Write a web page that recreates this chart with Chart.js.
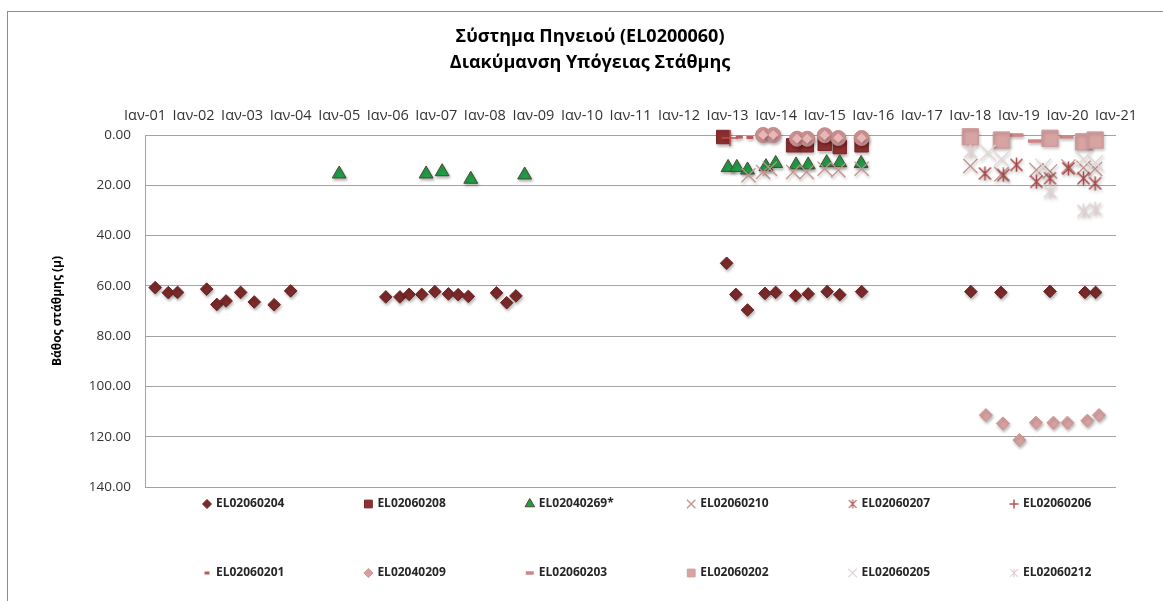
<!DOCTYPE html>
<html lang="el">
<head>
<meta charset="utf-8">
<title>Σύστημα Πηνειού (EL0200060)</title>
<script src="https://cdn.jsdelivr.net/npm/chart.js@4.4.1/dist/chart.umd.min.js"></script>
<style>
  html, body { margin: 0; padding: 0; background: #fff; }
  #wrap { position: relative; width: 1163px; height: 601px; }
</style>
</head>
<body>
<div id="wrap"><canvas id="levelChart" width="1163" height="601"></canvas></div>
<script>
  'use strict';

  const chartTitle = ['Σύστημα Πηνειού (EL0200060)', 'Διακύμανση Υπόγειας Στάθμης'];

  // Ετικέτες άξονα χρόνου (Ιανουάριος κάθε έτους)
  const yearTicks = ['Ιαν-01', 'Ιαν-02', 'Ιαν-03', 'Ιαν-04', 'Ιαν-05', 'Ιαν-06', 'Ιαν-07',
    'Ιαν-08', 'Ιαν-09', 'Ιαν-10', 'Ιαν-11', 'Ιαν-12', 'Ιαν-13', 'Ιαν-14', 'Ιαν-15',
    'Ιαν-16', 'Ιαν-17', 'Ιαν-18', 'Ιαν-19', 'Ιαν-20', 'Ιαν-21'];
  const depthTicks = [0, 20, 40, 60, 80, 100, 120, 140];

  // Μετρήσεις ανά γεώτρηση: χρόνος (δεκαδικό έτος) και βάθος στάθμης (μ)
  const t204 = [2001.21, 2001.48, 2001.67, 2002.27, 2002.48, 2002.67, 2002.97, 2003.25, 2003.66, 2004.00,
    2005.96, 2006.25, 2006.44, 2006.70, 2006.97, 2007.25, 2007.45, 2007.66, 2008.24, 2008.45, 2008.64,
    2012.98, 2013.17, 2013.41, 2013.77, 2013.99, 2014.40, 2014.66, 2015.05, 2015.31, 2015.76,
    2018.01, 2018.63, 2019.64, 2020.36, 2020.58];
  const d204 = [60.7, 62.7, 62.6, 61.3, 67.4, 66.0, 62.6, 66.4, 67.5, 62.0,
    64.4, 64.4, 63.4, 63.4, 62.3, 63.2, 63.5, 64.2, 62.8, 66.7, 64.0,
    51.0, 63.4, 69.6, 63.0, 62.6, 63.9, 63.2, 62.3, 63.5, 62.3,
    62.3, 62.6, 62.2, 62.6, 62.6];

  const t208 = [2012.91, 2014.35, 2014.63, 2015.00, 2015.31, 2015.76];
  const d208 = [0.8, 4.1, 4.1, 3.5, 4.8, 4.1];

  const t269 = [2005.00, 2006.79, 2007.12, 2007.71, 2008.82, 2013.01, 2013.19, 2013.41, 2013.79, 2013.99,
    2014.41, 2014.66, 2015.04, 2015.31, 2015.75];
  const d269 = [15.5, 15.5, 14.6, 17.6, 15.9, 12.9, 12.9, 13.9, 12.6, 11.3, 11.9, 11.9, 11.0, 11.0, 11.3];

  const t210 = [2013.43, 2013.73, 2013.87, 2014.35, 2014.63, 2015.00, 2015.28, 2015.76,
    2018.00, 2018.64, 2019.36, 2019.64, 2020.02, 2020.33, 2020.57];
  const d210 = [16.0, 14.7, 13.4, 14.7, 14.7, 13.4, 14.0, 13.4, 12.3, 15.6, 13.9, 14.5, 12.5, 13.0, 13.5];

  const t207 = [2018.30, 2018.68, 2018.95, 2019.36, 2019.64, 2020.02, 2020.33, 2020.57];
  const d207 = [15.3, 15.9, 11.9, 18.6, 17.2, 13.3, 17.2, 19.2];

  const t206 = [2013.05];
  const d206 = [1.2];

  const t201 = [2013.24, 2013.46];
  const d201 = [0.8, 1.0];

  const t209 = [2018.32, 2018.67, 2019.01, 2019.35, 2019.71, 2020.00, 2020.41, 2020.65];
  const d209 = [111.4, 114.7, 121.3, 114.4, 114.4, 114.4, 113.6, 111.4];

  const t203 = [2018.95, 2019.33, 2019.98];
  const d203 = [0.0, 2.4, 0.7];

  const t202 = [2018.00, 2018.64, 2019.64, 2020.33, 2020.57];
  const d202 = [0.7, 2.0, 1.3, 2.7, 2.0];

  const t205 = [2018.36, 2018.64, 2019.50, 2020.33, 2020.57];
  const d205 = [7.0, 9.5, 12.5, 9.5, 11.0];

  const t212 = [2018.00, 2019.64, 2020.33, 2020.57];
  const d212 = [6.6, 22.5, 30.2, 29.4];

  // στρογγυλά ροζ σημεία χωρίς υπόμνημα (2013-2015)
  const tRound = [2013.73, 2013.94, 2014.43, 2014.64, 2015.00, 2015.28, 2015.76];
  const dRound = [0.0, 0.0, 1.5, 1.5, 0.1, 1.2, 1.2];

  const FONT = '"Open Sans", "Noto Sans", "DejaVu Sans", sans-serif';
  Chart.defaults.font.family = FONT;

  function pts(t, d) {
    return t.map((x, i) => ({ x: x, y: d[i] }));
  }

  // αστερίσκος τύπου Excel: Χ με κατακόρυφη γραμμή
  function asterisk(size, color, lw) {
    const c = document.createElement('canvas');
    c.width = c.height = size;
    const g = c.getContext('2d');
    const m = lw;
    g.strokeStyle = color;
    g.lineWidth = lw;
    g.beginPath();
    g.moveTo(m, m); g.lineTo(size - m, size - m);
    g.moveTo(size - m, m); g.lineTo(m, size - m);
    g.moveTo(size / 2, 0.5); g.lineTo(size / 2, size - 0.5);
    g.stroke();
    return c;
  }

  function series(label, t, d, style) {
    return Object.assign({
      label: label,
      data: pts(t, d),
      clip: false,
      borderWidth: 1,
      pointHoverRadius: style.pointRadius
    }, style);
  }

  const datasets = [
    series('EL02060204', t204, d204, { pointStyle: 'rectRot', pointRadius: 6.3, backgroundColor: '#7b2a2a', borderColor: '#6b2323', legendRadius: 4.5 }),
    series('EL02060208', t208, d208, { pointStyle: 'rect', pointRadius: 9.5, backgroundColor: '#8e3030', borderColor: '#7a2828', legendRadius: 5.5 }),
    series('EL02040269*', t269, d269, { pointStyle: 'triangle', pointRadius: 8, backgroundColor: '#1f9e48', borderColor: '#4b4a2c', legendRadius: 5.5 }),
    series('EL02060210', t210, d210, { pointStyle: 'crossRot', pointRadius: 10, borderColor: '#c4928c', borderWidth: 1.3, legendRadius: 6 }),
    series('EL02060207', t207, d207, { pointStyle: asterisk(15, '#a84646', 1.5), pointRadius: 8, borderColor: '#a84646', legendImage: asterisk(10, '#b85a5a', 1.2) }),
    series('EL02060206', t206, d206, { pointStyle: 'cross', pointRadius: 8, borderColor: '#c0504d', borderWidth: 1.5, legendRadius: 4.5 }),
    series('EL02060201', t201, d201, { pointStyle: 'line', pointRadius: 3.5, borderColor: '#c05a5a', borderWidth: 3, legendRadius: 2.5 }),
    series('EL02040209', t209, d209, { pointStyle: 'rectRot', pointRadius: 6.5, backgroundColor: '#d6a0a0', borderColor: '#cc9595', legendRadius: 4.5 }),
    series('EL02060203', t203, d203, { pointStyle: 'line', pointRadius: 7, borderColor: '#d08484', borderWidth: 3.5, legendRadius: 4 }),
    series('EL02060202', t202, d202, { pointStyle: 'rect', pointRadius: 11.5, backgroundColor: '#d8a3a3', borderColor: '#cf9a9a', legendRadius: 5.5 }),
    series('EL02060205', t205, d205, { pointStyle: 'crossRot', pointRadius: 11, borderColor: '#e6d5d5', borderWidth: 1.3, legendRadius: 6 }),
    series('EL02060212', t212, d212, { pointStyle: asterisk(15, '#e3d0d0', 1.5), pointRadius: 8, borderColor: '#e3d0d0', legendImage: asterisk(10, '#e3d0d0', 1.2) }),
    series('', tRound, dRound, { pointStyle: 'circle', pointRadius: 7.5, backgroundColor: '#d59797', borderColor: '#c48585' }),
    series('', tRound, dRound, { pointStyle: 'rectRot', pointRadius: 5, backgroundColor: '#e7b7b7', borderWidth: 0 })
  ];
  // οι επόμενες σειρές σχεδιάζονται από πάνω
  datasets.forEach((ds, i) => { ds.order = -i; });

  // λευκό φόντο, πλαίσιο και δίγραμμος τίτλος
  const framePlugin = {
    id: 'frame',
    beforeDraw(chart) {
      const ctx = chart.ctx;
      ctx.save();
      ctx.fillStyle = '#fff';
      ctx.fillRect(0, 0, chart.width, chart.height);
      ctx.strokeStyle = '#8c8c8c';
      ctx.lineWidth = 1;
      ctx.strokeRect(7.5, 11.5, 1200, 700);
      ctx.fillStyle = '#000';
      ctx.font = 'bold 18px ' + FONT;
      ctx.textAlign = 'center';
      ctx.textBaseline = 'middle';
      chartTitle.forEach((line, i) => ctx.fillText(line, 590, 37 + i * 26));
      ctx.restore();
    }
  };

  // απαλή σκιά κάτω από τα σημεία
  const shadowPlugin = {
    id: 'markerShadow',
    beforeDatasetsDraw(chart) {
      const ctx = chart.ctx;
      ctx.save();
      ctx.shadowColor = 'rgba(0, 0, 0, 0.28)';
      ctx.shadowBlur = 3;
      ctx.shadowOffsetX = 1;
      ctx.shadowOffsetY = 2;
    },
    afterDatasetsDraw(chart) {
      chart.ctx.restore();
    }
  };

  // υπόμνημα σε πλέγμα 6 στηλών
  const gridLegend = {
    id: 'gridLegend',
    afterDraw(chart) {
      const ctx = chart.ctx;
      const cols = 6, x0 = 207, dx = 161.4, y0 = 504, dy = 69;
      ctx.save();
      ctx.font = 'bold 12px ' + FONT;
      ctx.textBaseline = 'middle';
      ctx.textAlign = 'left';
      chart.data.datasets.filter(ds => ds.label).forEach((ds, i) => {
        const x = x0 + (i % cols) * dx;
        const y = y0 + Math.floor(i / cols) * dy;
        if (ds.legendImage) {
          ctx.drawImage(ds.legendImage, x - 5, y - 5, 10, 10);
        } else {
          ctx.fillStyle = ds.backgroundColor || 'transparent';
          ctx.strokeStyle = ds.borderColor;
          ctx.lineWidth = ds.borderWidth;
          Chart.helpers.drawPoint(ctx, {
            pointStyle: ds.pointStyle,
            radius: ds.legendRadius,
            rotation: 0,
            borderWidth: ds.borderWidth
          }, x, y);
        }
        ctx.fillStyle = '#262626';
        ctx.fillText(ds.label, x + 9, y);
      });
      ctx.restore();
    }
  };

  const ctx = document.getElementById('levelChart');
  const levelChart = new Chart(ctx, {
    type: 'scatter',
    data: { datasets: datasets },
    options: {
      responsive: false,
      animation: false,
      devicePixelRatio: 1,
      events: [],
      layout: { padding: { top: 0, right: 47, bottom: 114, left: 0 } },
      plugins: {
        legend: { display: false },
        tooltip: { enabled: false },
        title: { display: false }
      },
      scales: {
        x: {
          type: 'linear',
          position: 'top',
          min: 2001,
          max: 2021,
          grid: { display: false, drawTicks: false },
          border: { display: false },
          ticks: {
            stepSize: 1,
            autoSkip: false,
            maxRotation: 0,
            padding: 10,
            color: '#333',
            font: { size: 14.5 },
            callback: v => yearTicks[Math.round(v - 2001)]
          },
          afterFit: s => { s.height = 135; }
        },
        y: {
          reverse: true,
          min: depthTicks[0],
          max: depthTicks[depthTicks.length - 1],
          grid: { color: '#a3a3a3', drawTicks: false },
          border: { color: '#a3a3a3' },
          ticks: {
            stepSize: 20,
            padding: 14,
            color: '#333',
            font: { size: 13.5 },
            callback: v => v.toFixed(2)
          },
          title: {
            display: true,
            text: 'Βάθος στάθμης (μ)',
            color: '#000',
            font: { size: 12, weight: 'bold' },
            padding: { top: 50, bottom: 0 }
          },
          afterFit: s => { s.width = 145; }
        }
      }
    },
    plugins: [framePlugin, shadowPlugin, gridLegend]
  });
</script>
</body>
</html>
